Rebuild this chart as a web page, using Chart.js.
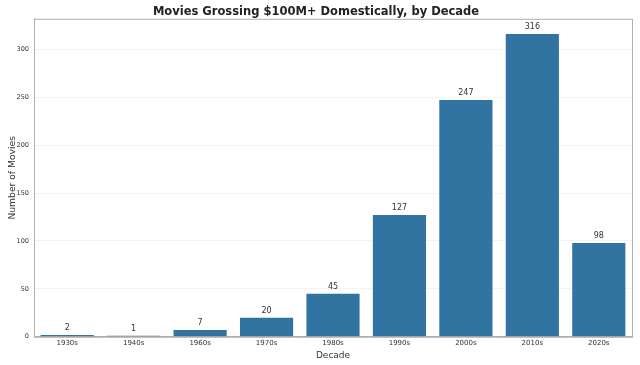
<!DOCTYPE html>
<html>
<head>
<meta charset="utf-8">
<script src="https://cdn.jsdelivr.net/npm/chart.js@4"></script>
<style>
  html, body { margin: 0; padding: 0; background: #fff; }
  #wrap { width: 640px; height: 365px; }
</style>
</head>
<body>
<div id="wrap"><canvas id="barChart" width="640" height="365"></canvas></div>
<script>
var decades = ['1930s', '1940s', '1960s', '1970s', '1980s', '1990s', '2000s', '2010s', '2020s'];
var movieCounts = [2, 1, 7, 20, 45, 127, 247, 316, 98];
var yTicks = [0, 50, 100, 150, 200, 250, 300];

var ctx = document.getElementById('barChart').getContext('2d');

// numbers above the bars + frame around plot area
var barLabels = {
  id: 'barLabels',
  afterDatasetsDraw: function(chart) {
    var c = chart.ctx;
    var meta = chart.getDatasetMeta(0);
    c.save();
    c.fillStyle = '#333';
    c.font = '8px "DejaVu Sans"';
    c.textAlign = 'center';
    c.textBaseline = 'bottom';
    meta.data.forEach(function(bar, i) {
      c.fillText(movieCounts[i], bar.x, bar.y - 3);
    });
    var a = chart.chartArea;
    c.strokeStyle = '#b0b0b0';
    c.lineWidth = 1;
    c.strokeRect(a.left + 0.5, a.top + 0.5, a.right - a.left, a.bottom - a.top);
    c.restore();
  }
};

new Chart(ctx, {
  type: 'bar',
  data: {
    labels: decades,
    datasets: [{
      data: movieCounts,
      backgroundColor: '#3274a1',
      categoryPercentage: 1,
      barPercentage: 0.8
    }]
  },
  options: {
    responsive: false,
    animation: false,
    layout: { padding: { top: 0, right: 8, bottom: 0, left: 0 } },
    plugins: {
      legend: { display: false },
      tooltip: { enabled: false },
      title: {
        display: true,
        text: 'Movies Grossing $100M+ Domestically, by Decade',
        color: '#222',
        font: { size: 11.5, weight: 'bold', family: 'DejaVu Sans' },
        padding: { top: 5, bottom: 0 }
      }
    },
    scales: {
      x: {
        grid: { display: false, drawTicks: false },
        border: { color: '#b0b0b0' },
        ticks: { color: '#333', font: { size: 7, family: 'DejaVu Sans' }, padding: 2 },
        title: { display: true, text: 'Decade', color: '#333', font: { size: 9, family: 'DejaVu Sans' }, padding: { top: 1, bottom: 4 } }
      },
      y: {
        min: 0,
        max: 331.8,
        afterBuildTicks: function(axis) {
          axis.ticks = yTicks.map(function(v) { return { value: v }; });
        },
        afterFit: function(axis) { axis.width = 34; },
        grid: { color: '#f3f3f3', drawTicks: false },
        border: { color: '#b0b0b0' },
        ticks: { color: '#333', font: { size: 6.5, family: 'DejaVu Sans' }, padding: 5 },
        title: { display: true, text: 'Number of Movies', color: '#333', font: { size: 9.2, family: 'DejaVu Sans' }, padding: { top: 7, bottom: 2 } }
      }
    }
  },
  plugins: [barLabels]
});
</script>
</body>
</html>
